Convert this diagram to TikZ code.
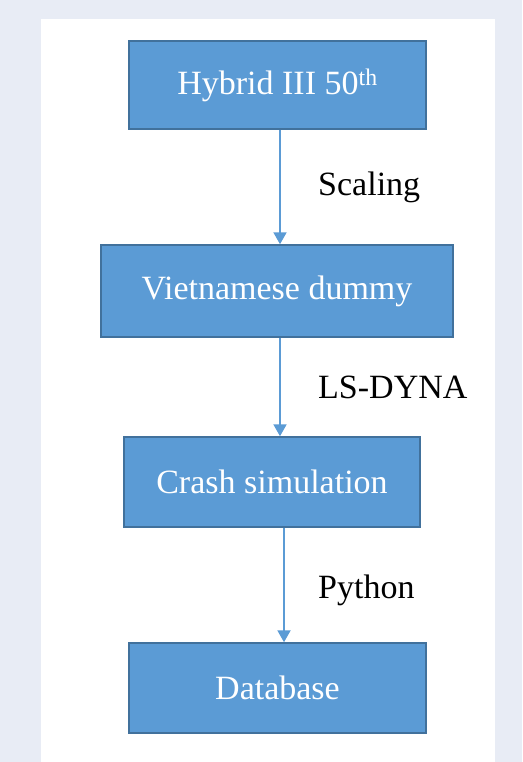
\documentclass[tikz,border=0pt]{standalone}
\usepackage{fontspec}
\setmainfont{Liberation Serif}
\usepackage{tikz}
\usetikzlibrary{shapes,arrows.meta}

\definecolor{boxblue}{HTML}{5B9BD5}
\definecolor{boxedge}{HTML}{41719C}
\definecolor{pagebg}{HTML}{E8ECF5}

\tikzset{
  stagebox/.style={rectangle, draw=boxedge, fill=boxblue, line width=1.5pt, inner sep=0pt,
    text=white, font=\fontsize{34}{40}\selectfont},
  flow/.style={draw=boxblue, line width=2pt, -{Triangle[width=13pt,length=12pt]}},
  steplabel/.style={anchor=west, inner sep=0pt, font=\fontsize{34}{40}\selectfont}
}

\begin{document}
\begin{tikzpicture}[x=1pt, y=-1pt]
% page and white panel
\fill[pagebg] (0,0) rectangle (522,762);
\fill[white] (41,19) rectangle (495,762);

\node (hybrid) at (277.5,85) [stagebox, minimum width=297pt, minimum height=88pt] {Hybrid III 50\textsuperscript{th}};
\node (dummy) at (277,291) [stagebox, minimum width=352pt, minimum height=92pt] {Vietnamese dummy};
\node (crash) at (272,482) [stagebox, minimum width=296pt, minimum height=90pt] {Crash simulation};
\node (db) at (277.5,688) [stagebox, minimum width=297pt, minimum height=90pt] {Database};

% scaling step
\draw[flow] (hybrid.south -| 280,0) -- (dummy.north -| 280,0);
\node (scaling) at (318,187) [steplabel] {Scaling};

% solver step
\draw[flow] (dummy.south -| 280,0) -- (crash.north -| 280,0);
\node (lsdyna) at (318,387) [steplabel] {LS-DYNA};

% export step
\draw[flow] (crash.south -| 284,0) -- (db.north -| 284,0);
\node (python) at (318,590) [steplabel] {Python};

\end{tikzpicture}
\end{document}
